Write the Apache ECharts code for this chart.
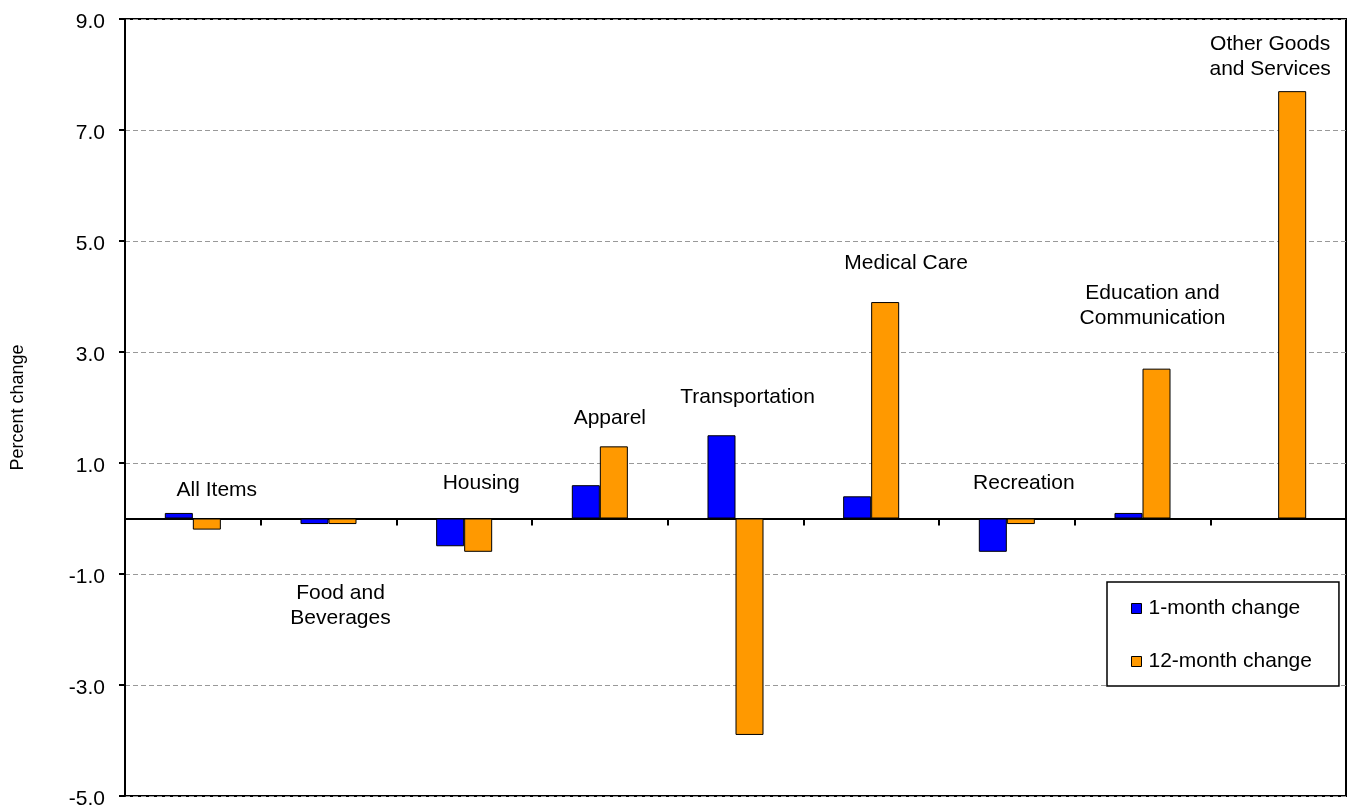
<!DOCTYPE html>
<html>
<head>
<meta charset="utf-8">
<script src="https://cdn.jsdelivr.net/npm/echarts@6/dist/echarts.min.js"></script>
<style>
  html, body { margin: 0; padding: 0; background: #fff; }
  #chart { width: 1351px; height: 807px; }
</style>
</head>
<body>
<div id="chart"></div>
<script>
// values
const categories = ['All Items', 'Food and\nBeverages', 'Housing', 'Apparel', 'Transportation',
  'Medical Care', 'Recreation', 'Education and\nCommunication', 'Other Goods\nand Services']
const oneMonth = [0.1, -0.1, -0.5, 0.6, 1.5, 0.4, -0.6, 0.1, 0.0]
const twelveMonth = [-0.2, -0.1, -0.6, 1.3, -3.9, 3.9, -0.1, 2.7, 7.7]
const yTicks = { min: -5, max: 9, interval: 2 }

// label placement (px), relative to category centre and top/bottom of its bars
const labelBelow = [false, true, false, false, false, false, false, false, false]
const labelShift = [[24, -23], [12, 82], [17, -35], [10, -28], [12, -38],
  [35, -39], [17, -35], [10, -63], [-8, -34]]

const font = 'Liberation Sans, Arial, sans-serif'
const chart = echarts.init(document.getElementById('chart'))

chart.setOption({
  animation: false,
  textStyle: { fontFamily: font },
  grid: {
    left: 125, right: 5, top: 19, bottom: 11,
    outerBoundsMode: 'none',
    show: true, borderColor: '#000', borderWidth: 2
  },
  legend: {
    orient: 'vertical',
    left: 1107, top: 582,
    padding: [16, 27, 14, 24],
    itemGap: 32,
    itemWidth: 10, itemHeight: 10,
    borderColor: '#000', borderWidth: 1.5,
    backgroundColor: '#fff',
    textStyle: { fontSize: 21, color: '#000', fontFamily: font, padding: [0, 0, 0, 2] },
    data: [
      { name: '1-month change', icon: 'rect', itemStyle: { color: '#0000ff', borderColor: '#000', borderWidth: 1 } },
      { name: '12-month change', icon: 'rect', itemStyle: { color: '#ff9900', borderColor: '#000', borderWidth: 1 } }
    ]
  },
  xAxis: {
    type: 'category',
    data: categories,
    axisLine: { onZero: true, lineStyle: { color: '#000', width: 2 } },
    axisTick: { show: true, length: 7, lineStyle: { color: '#000', width: 2 } },
    axisLabel: { show: false },
    splitLine: { show: false }
  },
  yAxis: {
    type: 'value',
    min: yTicks.min, max: yTicks.max, interval: yTicks.interval,
    name: 'Percent change',
    nameLocation: 'middle',
    nameGap: 98,
    nameRotate: 90,
    nameTextStyle: { fontSize: 18, color: '#000', fontFamily: font },
    axisLine: { show: true, lineStyle: { color: '#000', width: 2 } },
    axisTick: { show: true, length: 6, lineStyle: { color: '#000', width: 2 } },
    axisLabel: {
      fontSize: 21, color: '#000', margin: 20,
      verticalAlign: 'top', lineHeight: 6,
      formatter: v => v.toFixed(1)
    },
    splitLine: { lineStyle: { color: '#999', type: [5, 3], width: 1 } }
  },
  series: [
    {
      name: '1-month change',
      type: 'bar',
      data: oneMonth,
      barGap: '0%',
      barCategoryGap: '58.7%',
      itemStyle: { color: '#0000ff', borderColor: '#000', borderWidth: 1 }
    },
    {
      name: '12-month change',
      type: 'bar',
      data: twelveMonth,
      itemStyle: { color: '#ff9900', borderColor: '#000', borderWidth: 1 }
    },
    {
      type: 'custom',
      silent: true,
      z: 5,
      data: categories.map((c, i) => [i]),
      renderItem: (params, api) => {
        const i = api.value(0)
        const below = labelBelow[i]
        const edge = below
          ? Math.min(0, oneMonth[i], twelveMonth[i])
          : Math.max(0, oneMonth[i], twelveMonth[i])
        const p = api.coord([i, edge])
        return {
          type: 'text',
          x: p[0] + labelShift[i][0],
          y: p[1] + labelShift[i][1],
          style: {
            text: categories[i],
            fill: '#000',
            font: '21px ' + font,
            align: 'center',
            verticalAlign: 'middle',
            lineHeight: 25
          }
        }
      }
    }
  ]
})
</script>
</body>
</html>
